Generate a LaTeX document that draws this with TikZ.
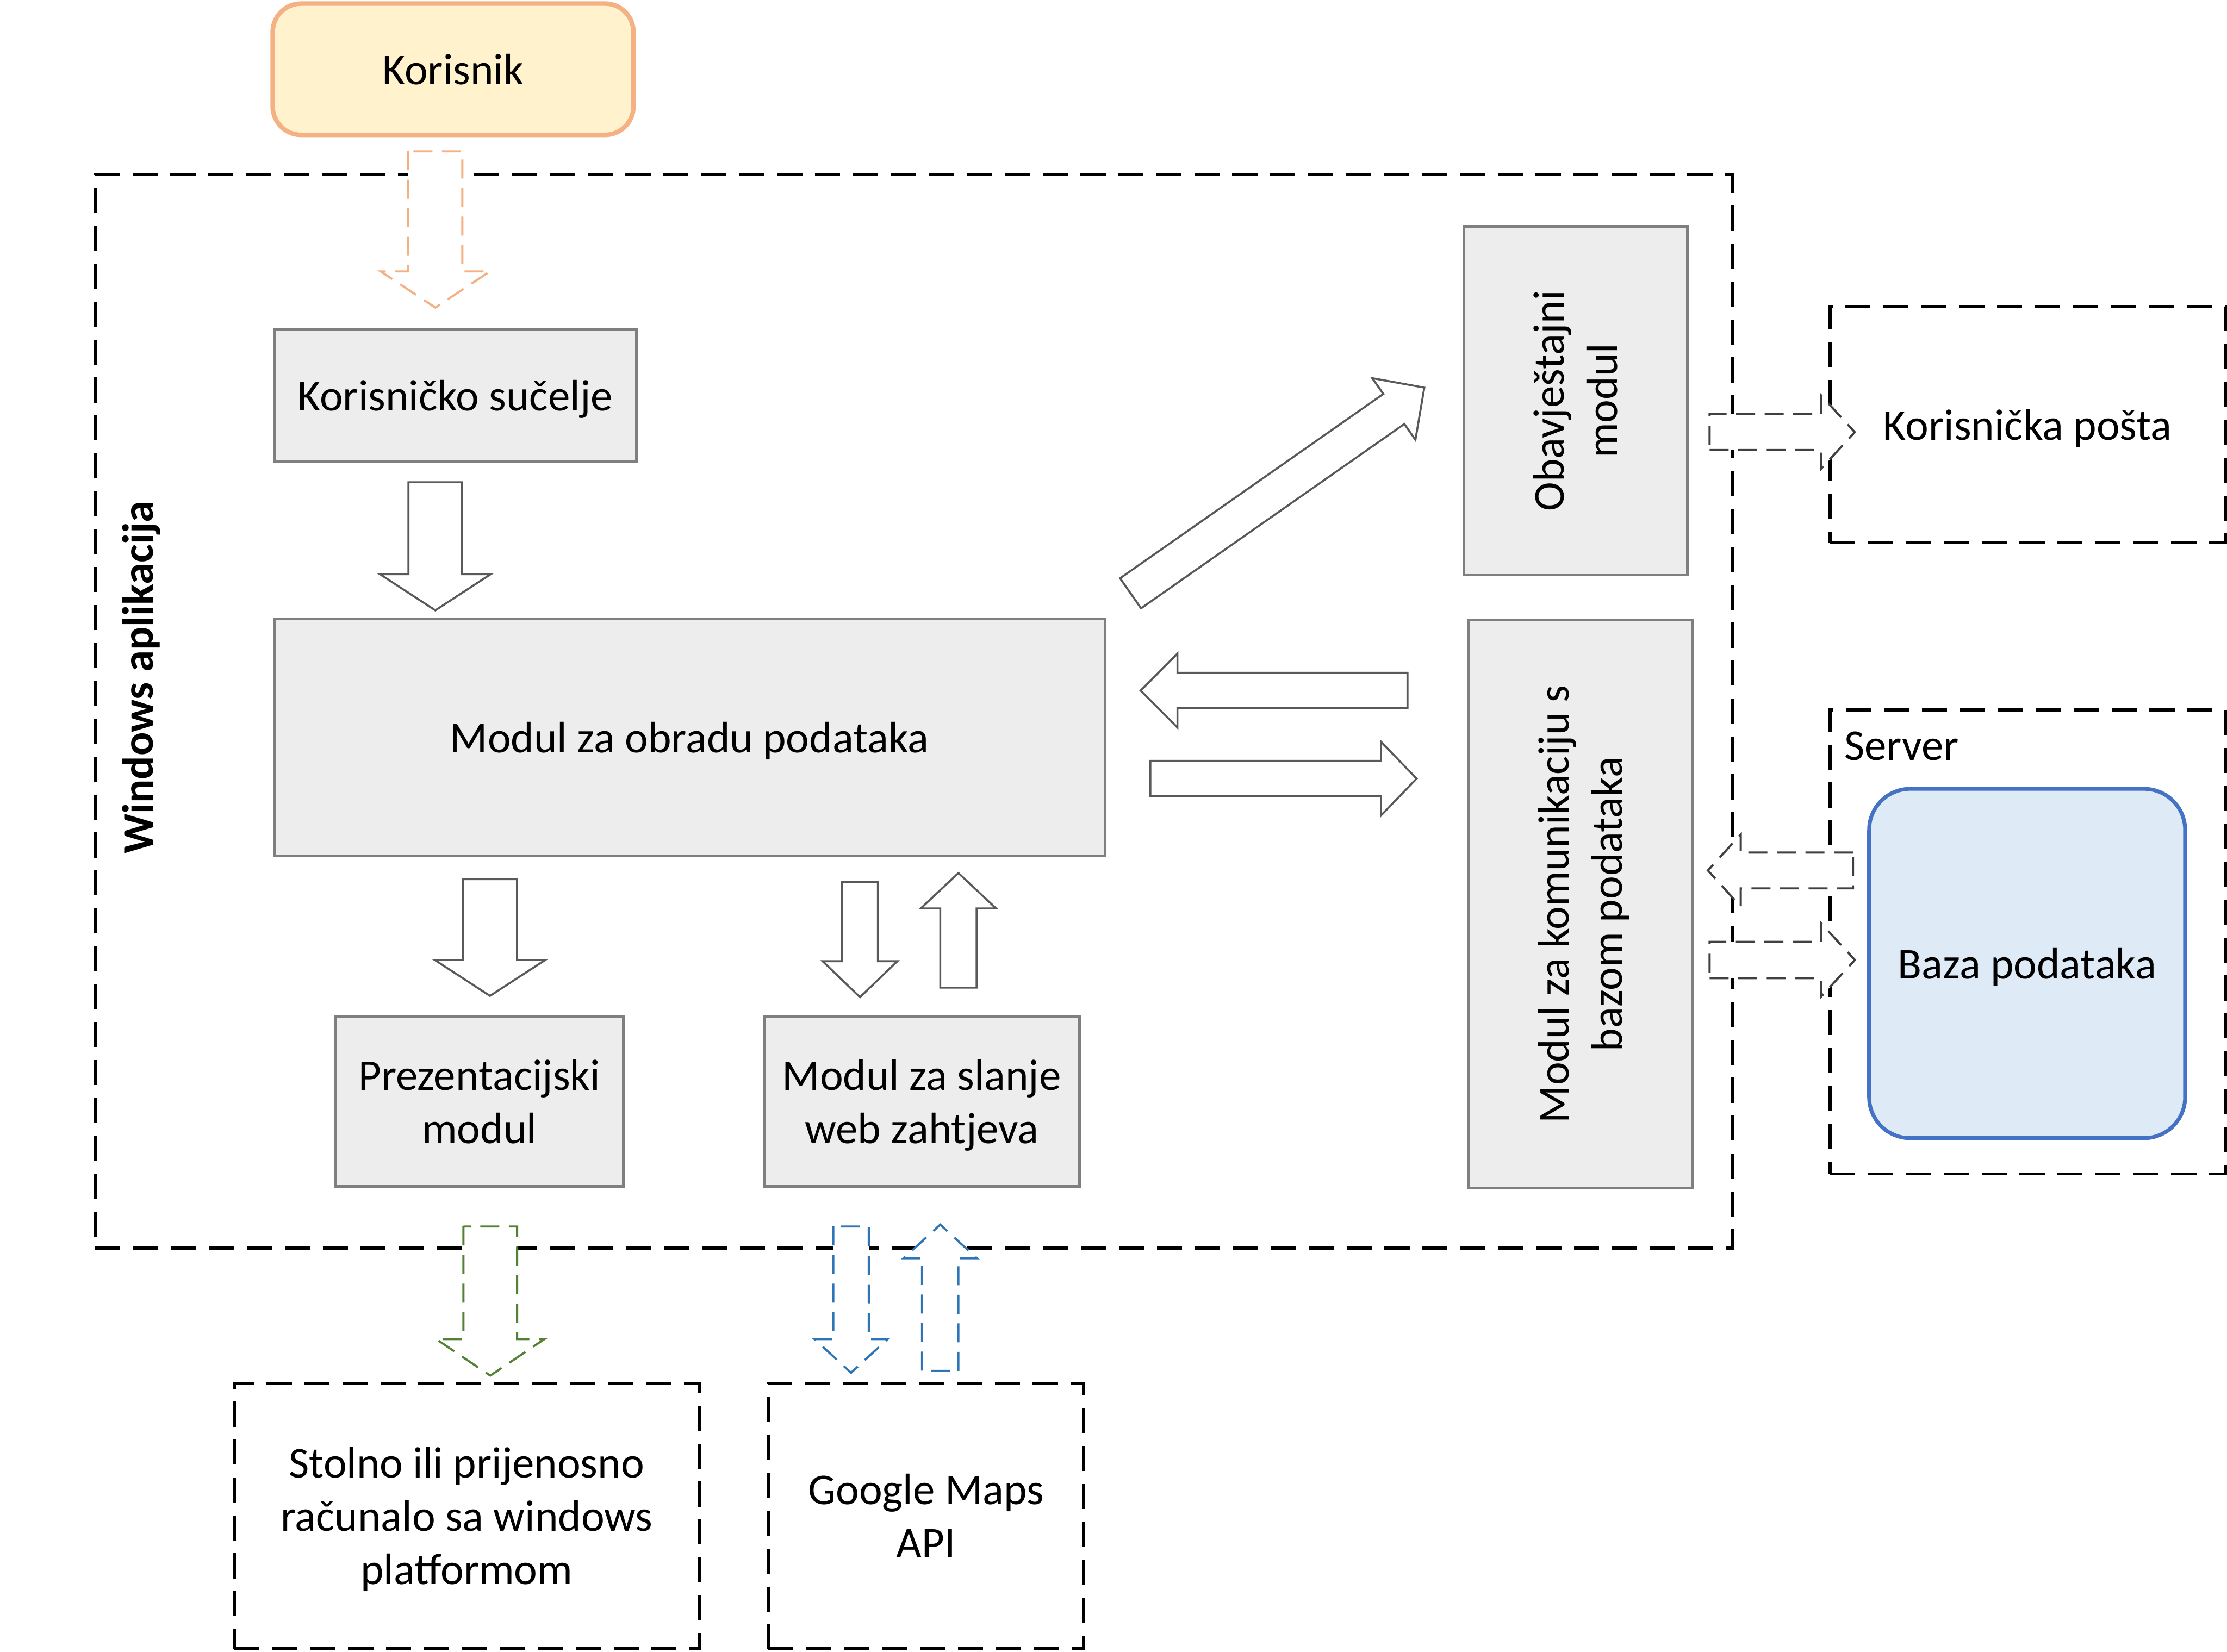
\documentclass[tikz,border=0pt]{standalone}
\usepackage{fontspec}
\setmainfont{Carlito}
\definecolor{boxgray}{HTML}{7F7F7F}
\definecolor{boxfill}{HTML}{EDEDED}
\definecolor{arrowgray}{HTML}{595959}
\definecolor{korfill}{HTML}{FFF2CC}
\definecolor{korline}{HTML}{F4B183}
\definecolor{bazafill}{HTML}{DEEBF7}
\definecolor{bazaline}{HTML}{4472C4}
\definecolor{greenline}{HTML}{548235}
\definecolor{blueline}{HTML}{2E75B6}
\definecolor{darkdash}{HTML}{404040}
% #1 style, #2 tail centre, #3 angle, #4 length, #5 shaft half width, #6 head half width, #7 head length
\newcommand{\blkarrow}[7]{%
  \begin{scope}[shift={(#2)}, rotate=#3]
    \draw[#1] (0,#5) -- ({#4-#7},#5) -- ({#4-#7},#6) -- (#4,0) -- ({#4-#7},-#6) -- ({#4-#7},-#5) -- (0,-#5) -- cycle;
  \end{scope}}
\begin{document}
\begin{tikzpicture}[x=1pt,y=-1pt,
  font=\fontsize{31}{37.6}\selectfont,
  every node/.style={inner sep=0pt, outer sep=0pt},
  oneline/.style={text height=21.7pt, text depth=0pt},
  flatlast/.style={text depth=0pt},
  gbox/.style={draw=boxgray, fill=boxfill, line width=1.8pt, align=center},
  dbox/.style={draw=black, line width=2.2pt, dash pattern=on 17.7pt off 9pt, align=center},
  solidarrow/.style={draw=arrowgray, fill=white, line width=1.4pt, line join=miter},
  dasharrow/.style={fill=white, line width=1.5pt, dash pattern=on 13.4pt off 6.7pt, line join=miter},
]
\useasboundingbox (0,0) rectangle (1568,1163);

% Windows application frame
\node[dbox, minimum width=1152.5pt, minimum height=756.1pt] (win) at (643.25,500.95) {};
\node[rotate=90, font=\fontsize{31}{37.6}\selectfont\bfseries] (winlabel) at (99.5,477) {Windows aplikacija};

% user
\node[draw=korline, fill=korfill, line width=3.2pt, rounded corners=20pt, oneline,
      minimum width=254pt, minimum height=92.5pt] (kor) at (319,48.75) {Korisnik};

% modules
\node[gbox, oneline, minimum width=255pt, minimum height=93pt] (ks) at (320.5,278.5) {Korisničko sučelje};
\node[gbox, oneline, minimum width=585pt, minimum height=166.5pt] (mop) at (485.5,519.25) {Modul za obradu podataka};
\node[gbox, minimum width=203pt, minimum height=119.5pt] (pm) at (337.5,775.75) {Prezentacijski\\modul};
\node[gbox, flatlast, minimum width=222pt, minimum height=119.5pt] (mws) at (649,775.75) {Modul za slanje\\web zahtjeva};
\node[gbox, rotate=90, minimum width=245.5pt, minimum height=157.4pt] (obv) at (1109.3,282.25) {Obavještajni\\modul};
\node[gbox, flatlast, rotate=90, minimum width=399.9pt, minimum height=157.5pt] (mkb) at (1112.65,636.65) {Modul za komunikaciju s\\bazom podataka};

% external
\node[dbox, oneline, minimum width=278.4pt, minimum height=166pt] (posta) at (1427.6,299) {Korisnička pošta};
\node[dbox, minimum width=278.4pt, minimum height=326.7pt] (server) at (1427.6,663.35) {};
\node[anchor=base west] (serverlabel) at (1298.5,535.3) {Server};
\node[draw=bazaline, fill=bazafill, line width=2.7pt, rounded corners=29pt, oneline,
      minimum width=222.5pt, minimum height=246pt] (baza) at (1427.25,678.5) {Baza podataka};
\node[dbox, flatlast, minimum width=327.2pt, minimum height=187pt] (stolno) at (328.6,1067.5) {Stolno ili prijenosno\\računalo sa windows\\platformom};
\node[dbox, minimum width=222pt, minimum height=187pt] (gmaps) at (652,1067.5) {Google Maps\\API};

% solid block arrows
\blkarrow{solidarrow}{306.5,339.6}{-90}{90.2}{18.9}{38.9}{25.4}
\blkarrow{solidarrow}{345,619.1}{-90}{82.2}{19}{38.9}{25.3}
\blkarrow{solidarrow}{605.5,621.2}{-90}{81}{12.6}{26.3}{25.3}
\blkarrow{solidarrow}{674.8,695.5}{90}{80.7}{12.8}{26.5}{24.9}
\blkarrow{solidarrow}{991,486.3}{180}{187.9}{12.5}{26}{25.9}
\blkarrow{solidarrow}{809.9,548.3}{0}{187.5}{12.5}{26}{25.1}
\blkarrow{solidarrow}{796,417.8}{35}{252.5}{12.9}{26.5}{26.2}

% dashed block arrows
\blkarrow{dasharrow, draw=korline}{306.5,106.5}{-90}{110.1}{19}{38.5}{25.5}
\blkarrow{dasharrow, draw=darkdash}{1203.7,304.3}{0}{102.2}{12.6}{25.7}{23.6}
\blkarrow{dasharrow, draw=darkdash}{1304.7,613}{180}{102.2}{12.6}{25.4}{23.1}
\blkarrow{dasharrow, draw=darkdash}{1203.7,676}{0}{102.3}{12.8}{25.7}{23.7}
\blkarrow{dasharrow, draw=greenline}{345.2,863.7}{-90}{105}{18.9}{38.1}{25.7}
\blkarrow{dasharrow, draw=blueline}{599.2,863.7}{-90}{103}{12.5}{25.75}{23.7}
\blkarrow{dasharrow, draw=blueline}{662,965.4}{90}{103}{12.8}{25.85}{23.7}
\end{tikzpicture}
\end{document}
